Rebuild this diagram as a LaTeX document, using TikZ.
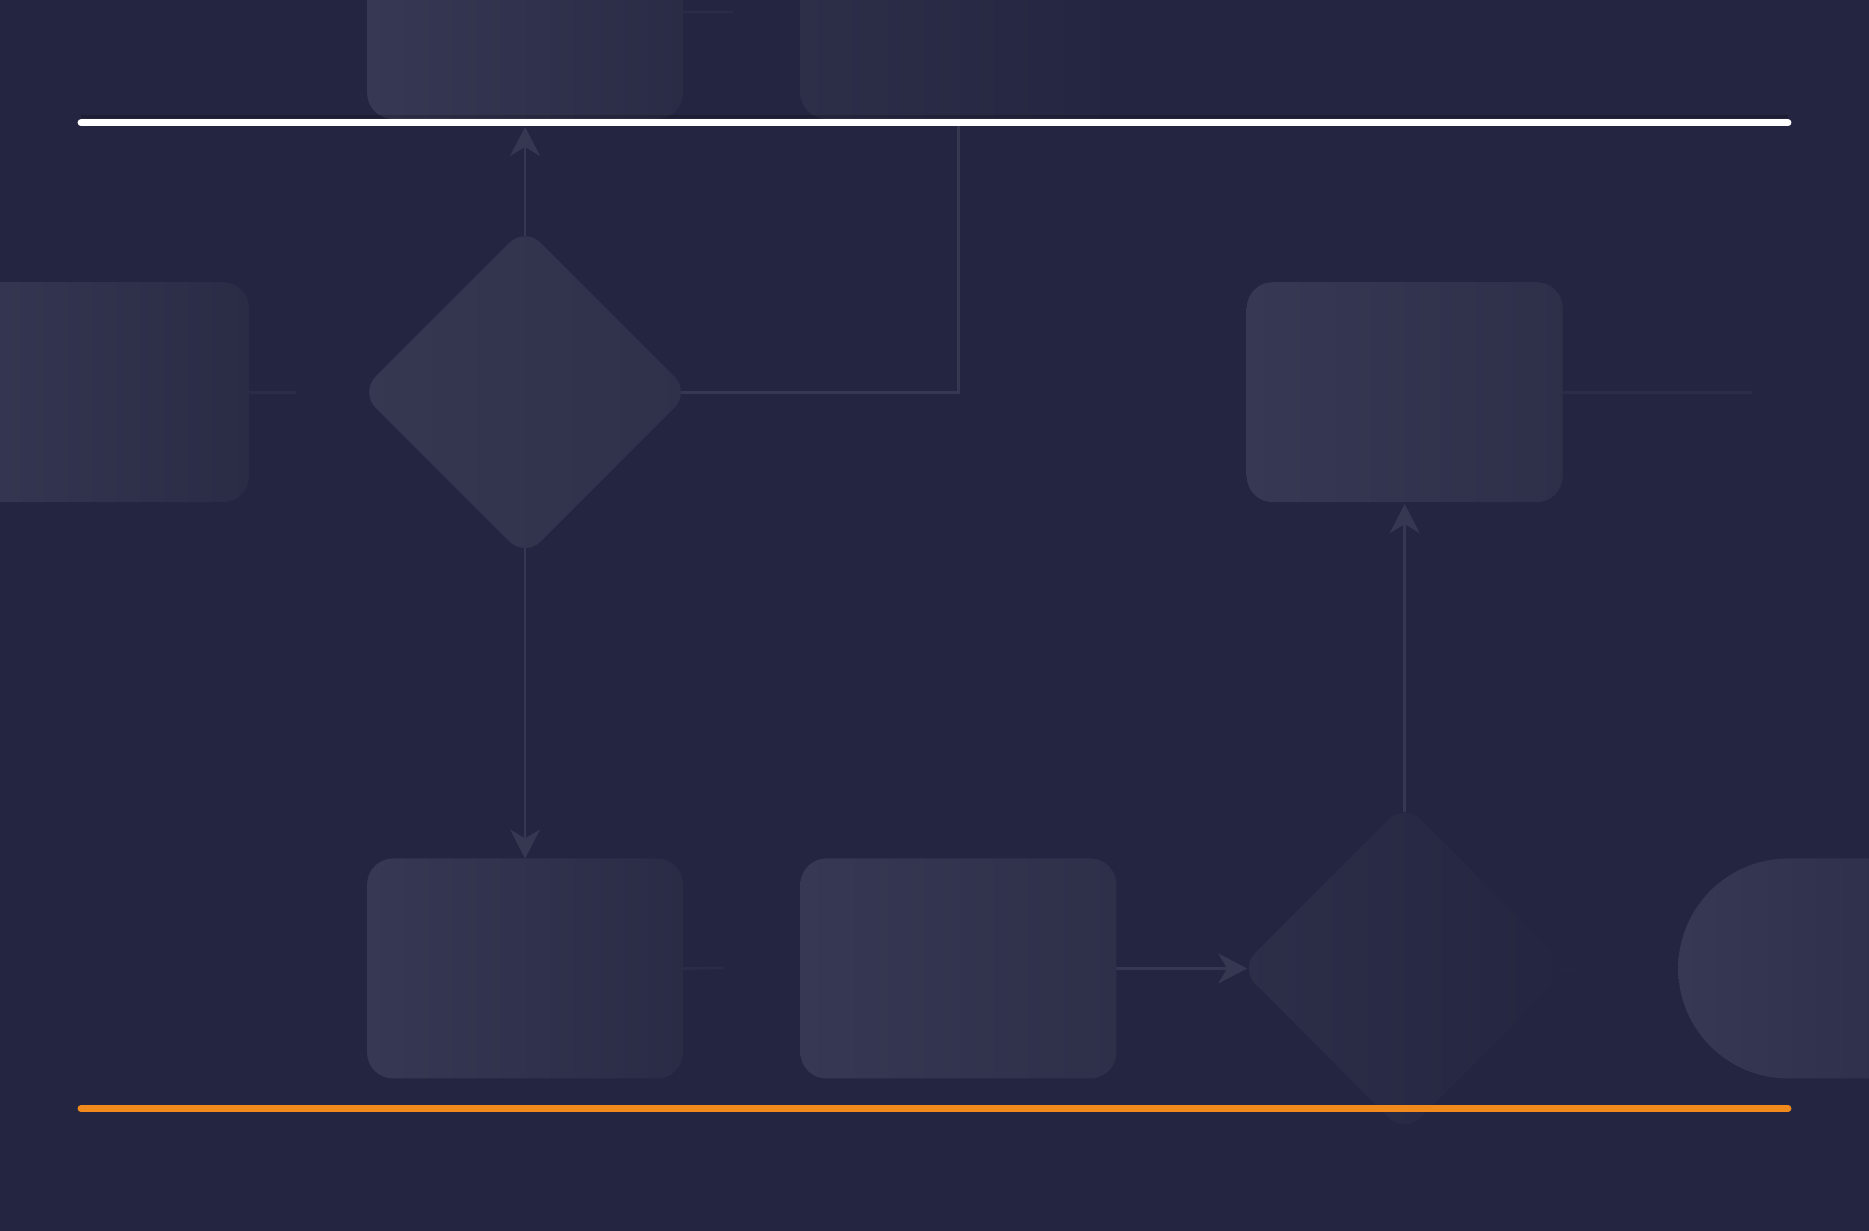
\documentclass[tikz,border=0pt]{standalone}
\usetikzlibrary{shapes.geometric,arrows.meta}
\definecolor{bg}{HTML}{242540}
\definecolor{boxl}{HTML}{373853}
\definecolor{boxr}{HTML}{2A2B45}
\definecolor{boxr2}{HTML}{2E2F49}
\definecolor{fadel}{HTML}{2D2E48}
\definecolor{dial}{HTML}{363751}
\definecolor{diar}{HTML}{2F3049}
\definecolor{connc}{HTML}{363751}
\definecolor{stubc}{HTML}{2B2C47}
\definecolor{orng}{HTML}{F08A1D}
\pgfdeclarelayer{bgl}
\pgfdeclarelayer{lines}
\pgfdeclarelayer{top}
\pgfsetlayers{bgl,lines,main,top}
\begin{document}
\begin{tikzpicture}[x=1.192pt,y=-1.192pt,
  box/.style={rectangle, rounded corners=26pt, minimum width=316pt, minimum height=220pt, inner sep=0pt, outer sep=0pt},
  dia/.style={diamond, aspect=1, rounded corners=22pt, minimum width=330pt, minimum height=330pt, inner sep=0pt, outer sep=0pt},
  conn/.style={draw=connc, line width=2.8pt},
  stub/.style={draw=stubc, line width=2.8pt},
  arr/.style={conn, -{Stealth[length=29pt,width=30pt,inset=9pt]}},
  rulel/.style={line width=7pt, line cap=round}]
\useasboundingbox (0,0) rectangle (1568,1032.7);
\begin{pgfonlayer}{bgl}
\fill[bg] (0,0) rectangle (1568,1032.7);
\end{pgfonlayer}

% shapes
\node[box, left color=boxl, right color=boxr] (a) at (440.5,7.5) {};
\node[box, left color=fadel, right color=bg] (b) at (804,7.5) {};
\node[box, left color=boxl, right color=boxr] (c) at (76.5,329) {};
\node[dia, left color=dial, right color=diar] (d1) at (440.5,329) {};
\node[box, left color=boxl, right color=boxr2] (f) at (1178.5,329) {};
\node[box, left color=boxl, right color=boxr] (e) at (440.5,812.5) {};
\node[box, left color=boxl, right color=boxr2] (g) at (804,812.5) {};
\node[dia, left color=fadel, right color=bg] (d2) at (1178.5,812.5) {};
\node[rectangle, rounded corners=110pt, minimum width=477pt, minimum height=220pt, inner sep=0pt, left color=boxl, right color=bg] (h) at (1608,812.5) {};

% free ends of stubs
\coordinate (ca) at (615,10);
\coordinate (cs) at (248,329);
\coordinate (cf) at (1470,329);
\coordinate (ce) at (607,812);
\coordinate (cd) at (1350,812);

\begin{pgfonlayer}{lines}
\draw[arr, shorten <=-9pt, shorten >=8pt] (d1.north) -- (a.south);
\draw[arr, shorten <=-9pt] (d1.south) -- (e.north);
\draw[conn, shorten <=-9pt] (d1.east) -| (b.south);
\draw[arr, shorten <=-9pt, shorten >=2pt] (d2.north) -- (f.south);
\draw[arr, shorten >=-7.5pt] (g.east) -- (d2.west);
\draw[stub] (c.east) -- (cs);
\draw[stub] (f.east) -- (cf);
\draw[stub] (e.east) -- (ce);
\draw[stub] (a.east |- ca) -- (ca);
\draw[draw=bg!85!stubc, line width=2.8pt, shorten <=-9pt] (d2.east) -- (cd);
\end{pgfonlayer}

\begin{pgfonlayer}{top}
\draw[line width=3pt, black, opacity=0.18] (68,97.5) -- (1500,97.5);
\draw[rulel, white] (68,103) -- (1500,103);
\draw[rulel, orng] (68,930) -- (1500,930);
\end{pgfonlayer}
\end{tikzpicture}
\end{document}
